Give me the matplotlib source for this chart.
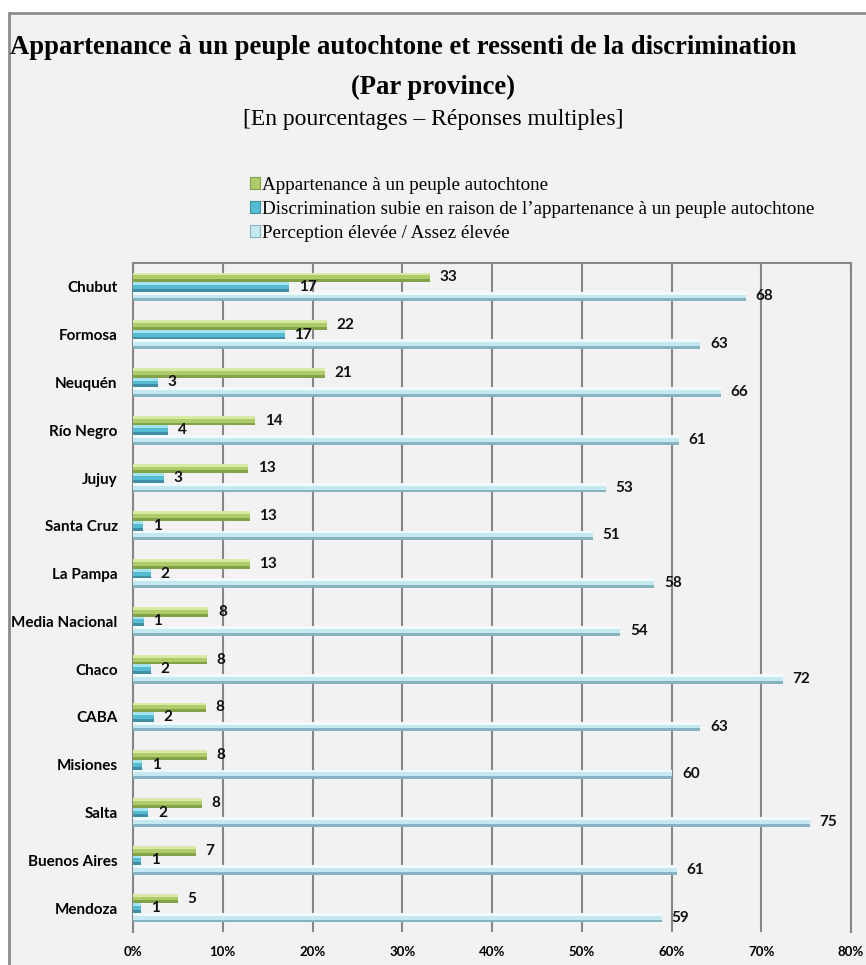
import numpy as np
import matplotlib.pyplot as plt
from matplotlib.patches import Rectangle, Patch

# data (bar lengths in %, labels are rounded)
provinces = ['Chubut', 'Formosa', 'Neuquén', 'Río Negro', 'Jujuy', 'Santa Cruz',
             'La Pampa', 'Media Nacional', 'Chaco', 'CABA', 'Misiones', 'Salta',
             'Buenos Aires', 'Mendoza']
appartenance = [33.1, 21.6, 21.4, 13.6, 12.8, 13.0, 13.0, 8.4, 8.2, 8.1, 8.2, 7.7, 7.0, 5.0]
discrimination = [17.4, 16.9, 2.8, 3.9, 3.4, 1.1, 2.0, 1.2, 2.0, 2.3, 1.0, 1.7, 0.9, 0.9]
perception = [68.3, 63.2, 65.5, 60.8, 52.7, 51.2, 58.1, 54.3, 72.4, 63.2, 60.1, 75.4, 60.6, 58.9]
xticks = [0, 10, 20, 30, 40, 50, 60, 70, 80]

series_names = ['Appartenance à un peuple autochtone',
                'Discrimination subie en raison de l\u2019appartenance à un peuple autochtone',
                'Perception élevée / Assez élevée']
# (light, mid, dark) shades for each series
shades = [('#d9eaa6', '#b0cc6a', '#83a247'),
          ('#a2e3f0', '#56bcd3', '#3f8ea3'),
          ('#f1fbfd', '#c4e9f1', '#86b3c0')]

fig = plt.figure(figsize=(8.66, 9.65), dpi=100, facecolor='white')

# grey panel with frame
fig.patches.append(Rectangle((9 / 866, -0.01), 1.0, 1 - 13 / 965 + 0.01,
                             transform=fig.transFigure, facecolor='#f2f2f2',
                             edgecolor='#8c8c8c', linewidth=2, zorder=-5))

fig.text(10 / 866, 1 - 47 / 965,
         'Appartenance à un peuple autochtone et ressenti de la discrimination',
         family='Liberation Serif', weight='bold', fontsize=19.2, va='center', ha='left')
fig.text(433 / 866, 1 - 87 / 965, '(Par province)', family='Liberation Serif',
         weight='bold', fontsize=19.2, va='center', ha='center')
fig.text(433 / 866, 1 - 119 / 965, '[En pourcentages \u2013 Réponses multiples]',
         family='Liberation Serif', fontsize=17, va='center', ha='center')

ax = fig.add_axes([133 / 866, 33 / 965, 718 / 866, (932 - 263) / 965])
ax.set_facecolor('none')

y = np.arange(len(provinces))
h = 0.2
offsets = [-0.2, 0.0, 0.2]
for vals, off, (lt, md, dk) in zip([appartenance, discrimination, perception], offsets, shades):
    c = y + off
    ax.barh(c, vals, height=h, color=md, zorder=3)
    ax.barh(c - h / 2 + 0.15 * h, vals, height=0.3 * h, color=lt, zorder=4)
    ax.barh(c + h / 2 - 0.15 * h, vals, height=0.3 * h, color=dk, zorder=4)
    for yy, v in zip(c, vals):
        ax.annotate(f'{v:.0f}', (v, yy), xytext=(7, 0), textcoords='offset points',
                    va='center', ha='left', family='Lato', weight='bold', fontsize=11,
                    color='#111111', zorder=5)

ax.set_xlim(0, 80)
ax.set_ylim(len(provinces) - 0.5, -0.5)
ax.set_xticks(xticks)
ax.set_xticklabels([f'{t}%' for t in xticks], family='Lato', weight='bold', fontsize=9.5)
ax.set_yticks(y)
ax.set_yticklabels(provinces, family='Lato', weight='bold', fontsize=11)
ax.tick_params(axis='x', length=0, pad=10)
ax.tick_params(axis='y', length=0, pad=11)
ax.grid(axis='x', color='#868686', linewidth=1.5, zorder=1)
for s in ['left', 'top', 'right']:
    ax.spines[s].set_color('#868686')
    ax.spines[s].set_linewidth(1.5)
ax.spines['bottom'].set_visible(False)

handles = [Patch(facecolor=md, edgecolor=dk, linewidth=0.8) for (lt, md, dk) in shades]
fig.legend(handles, series_names, loc='upper left', bbox_to_anchor=(250 / 866, 1 - 177 / 965),
           frameon=False, prop={'family': 'Liberation Serif', 'size': 13.7},
           handlelength=0.5, handleheight=0.6, handletextpad=0.15, labelspacing=0.37,
           borderpad=0, borderaxespad=0)

fig.savefig('out.png', dpi=100, facecolor='white')
